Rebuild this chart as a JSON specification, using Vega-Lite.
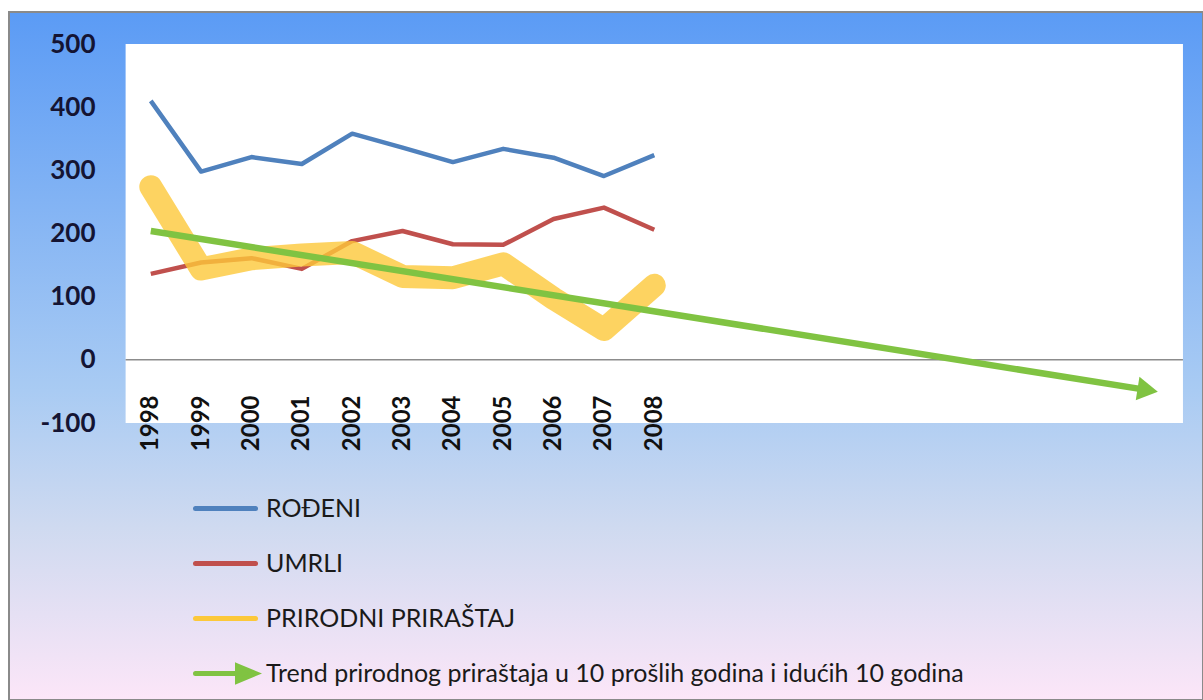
{
  "$schema": "https://vega.github.io/schema/vega-lite/v6.json",
  "width": 1194,
  "height": 688,
  "autosize": {"type": "none"},
  "padding": {"left": 9, "top": 12, "right": 0, "bottom": 0},
  "background": "white",
  "config": {
    "view": {
      "fill": {"gradient": "linear", "x1": 0, "y1": 0, "x2": 0, "y2": 1, "stops": [
        {"offset": 0, "color": "#5b9bf5"},
        {"offset": 0.55, "color": "#a9cbf3"},
        {"offset": 0.75, "color": "#cfdaf0"},
        {"offset": 1, "color": "#fce6f8"}
      ]},
      "stroke": "#8a8a8a",
      "strokeWidth": 2
    },
    "font": "Lato",
    "axisX": {"offset": -341, "labelAngle": 270, "labelAlign": "right", "labelBaseline": "middle", "labelPadding": 36,
      "ticks": false, "domain": false, "grid": false, "labelFont": "Lato", "labelFontWeight": "bold",
      "labelFontSize": 24, "labelColor": "#111111"},
    "axisY": {"offset": -117, "labelPadding": 31, "ticks": false, "domain": false, "grid": false, "labelFont": "Lato",
      "labelFontWeight": "bold", "labelFontSize": 26, "labelColor": "#141433", "labelBaseline": "middle"}
  },
  "datasets": {
    "series": [
      {"year": 1998, "series": "ROĐENI", "value": 410},
      {"year": 1999, "series": "ROĐENI", "value": 298},
      {"year": 2000, "series": "ROĐENI", "value": 321},
      {"year": 2001, "series": "ROĐENI", "value": 310},
      {"year": 2002, "series": "ROĐENI", "value": 358},
      {"year": 2003, "series": "ROĐENI", "value": 336},
      {"year": 2004, "series": "ROĐENI", "value": 313},
      {"year": 2005, "series": "ROĐENI", "value": 334},
      {"year": 2006, "series": "ROĐENI", "value": 320},
      {"year": 2007, "series": "ROĐENI", "value": 291},
      {"year": 2008, "series": "ROĐENI", "value": 324},
      {"year": 1998, "series": "UMRLI", "value": 136},
      {"year": 1999, "series": "UMRLI", "value": 154},
      {"year": 2000, "series": "UMRLI", "value": 161},
      {"year": 2001, "series": "UMRLI", "value": 144},
      {"year": 2002, "series": "UMRLI", "value": 188},
      {"year": 2003, "series": "UMRLI", "value": 204},
      {"year": 2004, "series": "UMRLI", "value": 183},
      {"year": 2005, "series": "UMRLI", "value": 182},
      {"year": 2006, "series": "UMRLI", "value": 223},
      {"year": 2007, "series": "UMRLI", "value": 241},
      {"year": 2008, "series": "UMRLI", "value": 206},
      {"year": 1998, "series": "PRIRODNI PRIRAŠTAJ", "value": 274},
      {"year": 1999, "series": "PRIRODNI PRIRAŠTAJ", "value": 144},
      {"year": 2000, "series": "PRIRODNI PRIRAŠTAJ", "value": 160},
      {"year": 2001, "series": "PRIRODNI PRIRAŠTAJ", "value": 166},
      {"year": 2002, "series": "PRIRODNI PRIRAŠTAJ", "value": 170},
      {"year": 2003, "series": "PRIRODNI PRIRAŠTAJ", "value": 132},
      {"year": 2004, "series": "PRIRODNI PRIRAŠTAJ", "value": 130},
      {"year": 2005, "series": "PRIRODNI PRIRAŠTAJ", "value": 152},
      {"year": 2006, "series": "PRIRODNI PRIRAŠTAJ", "value": 97},
      {"year": 2007, "series": "PRIRODNI PRIRAŠTAJ", "value": 48},
      {"year": 2008, "series": "PRIRODNI PRIRAŠTAJ", "value": 118},
      {"year": 1998, "series": "Trend prirodnog priraštaja u 10 prošlih godina i idućih 10 godina", "value": 204},
      {"year": 2017.8, "series": "Trend prirodnog priraštaja u 10 prošlih godina i idućih 10 godina", "value": -48}
    ],
    "one": [{}]
  },
  "data": {"name": "series"},
  "layer": [
    {
      "data": {"name": "one"},
      "mark": {"type": "rect", "fill": "white"},
      "encoding": {
        "x": {"datum": 1997.5, "type": "quantitative", "scale": {"domain": [1995.184, 2018.898], "zero": false, "nice": false},
          "axis": {"values": [1998,1999,2000,2001,2002,2003,2004,2005,2006,2007,2008], "format": "d", "title": null, "zindex": 1}},
        "x2": {"datum": 2018.5},
        "y": {"datum": -100, "type": "quantitative", "scale": {"domain": [-538.52, 550.66], "zero": false, "nice": false},
          "axis": {"values": [-100,0,100,200,300,400,500], "labelExpr": "'' + datum.value", "title": null, "zindex": 1}},
        "y2": {"datum": 500}
      }
    },
    {
      "data": {"name": "one"},
      "mark": {"type": "rule", "color": "#8c8c8c", "strokeWidth": 1.5},
      "encoding": {
        "x": {"datum": 1997.5, "type": "quantitative", "scale": {"domain": [1995.184, 2018.898], "zero": false, "nice": false},
          "axis": {"values": [1998,1999,2000,2001,2002,2003,2004,2005,2006,2007,2008], "format": "d", "title": null, "zindex": 1}},
        "x2": {"datum": 2018.5},
        "y": {"datum": 0, "type": "quantitative", "scale": {"domain": [-538.52, 550.66], "zero": false, "nice": false},
          "axis": {"values": [-100,0,100,200,300,400,500], "labelExpr": "'' + datum.value", "title": null, "zindex": 1}}
      }
    },
    {
      "transform": [{"filter": {"field": "series", "oneOf": ["ROĐENI", "UMRLI"]}}],
      "mark": {"type": "line", "strokeWidth": 4.5, "strokeJoin": "round"},
      "encoding": {
        "x": {"field": "year", "type": "quantitative", "scale": {"domain": [1995.184, 2018.898], "zero": false, "nice": false},
          "axis": {"values": [1998,1999,2000,2001,2002,2003,2004,2005,2006,2007,2008], "format": "d", "title": null, "zindex": 1}},
        "y": {"field": "value", "type": "quantitative", "scale": {"domain": [-538.52, 550.66], "zero": false, "nice": false},
          "axis": {"values": [-100,0,100,200,300,400,500], "labelExpr": "'' + datum.value", "title": null, "zindex": 1}},
        "color": {"field": "series", "type": "nominal",
          "scale": {"domain": ["ROĐENI", "UMRLI", "PRIRODNI PRIRAŠTAJ", "Trend prirodnog priraštaja u 10 prošlih godina i idućih 10 godina"],
                    "range": ["#4f81bd", "#c0504d", "#fcc83a", "#80c342"]},
          "legend": {"orient": "none", "legendX": 199, "legendY": 479, "title": null, "padding": 0,
            "symbolType": "M-2,0L2,0", "symbolSize": 900, "symbolStrokeWidth": 5,
            "labelFont": "Lato", "labelFontSize": 25, "labelColor": "#1a1a1a", "labelOffset": 23, "rowPadding": 24, "labelLimit": 1000,
            "encode": {"symbols": {"update": {
              "shape": {"signal": "datum.index === 3 ? 'M-2,0L0.9,0M0.8,-0.5L2,0L0.8,0.5Z' : 'M-2,0L2,0'"},
              "fill": {"signal": "datum.index === 3 ? '#80c342' : 'transparent'"},
              "strokeWidth": {"value": 5},
              "strokeCap": {"value": "round"},
              "opacity": {"value": 1}
            }}}}
        }
      }
    },
    {
      "transform": [{"filter": {"field": "series", "equal": "PRIRODNI PRIRAŠTAJ"}}],
      "mark": {"type": "line", "strokeWidth": 23, "opacity": 0.8, "strokeCap": "round", "strokeJoin": "round"},
      "encoding": {
        "x": {"field": "year", "type": "quantitative", "scale": {"domain": [1995.184, 2018.898], "zero": false, "nice": false},
          "axis": {"values": [1998,1999,2000,2001,2002,2003,2004,2005,2006,2007,2008], "format": "d", "title": null, "zindex": 1}},
        "y": {"field": "value", "type": "quantitative", "scale": {"domain": [-538.52, 550.66], "zero": false, "nice": false},
          "axis": {"values": [-100,0,100,200,300,400,500], "labelExpr": "'' + datum.value", "title": null, "zindex": 1}},
        "color": {"field": "series", "type": "nominal", "legend": null}
      }
    },
    {
      "transform": [{"filter": {"field": "series", "equal": "Trend prirodnog priraštaja u 10 prošlih godina i idućih 10 godina"}}],
      "mark": {"type": "line", "strokeWidth": 6.5},
      "encoding": {
        "x": {"field": "year", "type": "quantitative", "scale": {"domain": [1995.184, 2018.898], "zero": false, "nice": false},
          "axis": {"values": [1998,1999,2000,2001,2002,2003,2004,2005,2006,2007,2008], "format": "d", "title": null, "zindex": 1}},
        "y": {"field": "value", "type": "quantitative", "scale": {"domain": [-538.52, 550.66], "zero": false, "nice": false},
          "axis": {"values": [-100,0,100,200,300,400,500], "labelExpr": "'' + datum.value", "title": null, "zindex": 1}},
        "color": {"field": "series", "type": "nominal", "legend": null}
      }
    },
    {
      "transform": [{"filter": {"field": "year", "equal": 2017.8}}],
      "mark": {"type": "point", "shape": "triangle-right", "filled": true, "size": 560, "angle": 9, "color": "#80c342", "opacity": 1},
      "encoding": {
        "x": {"field": "year", "type": "quantitative", "scale": {"domain": [1995.184, 2018.898], "zero": false, "nice": false},
          "axis": {"values": [1998,1999,2000,2001,2002,2003,2004,2005,2006,2007,2008], "format": "d", "title": null, "zindex": 1}},
        "y": {"field": "value", "type": "quantitative", "scale": {"domain": [-538.52, 550.66], "zero": false, "nice": false},
          "axis": {"values": [-100,0,100,200,300,400,500], "labelExpr": "'' + datum.value", "title": null, "zindex": 1}}
      }
    }
  ]
}
